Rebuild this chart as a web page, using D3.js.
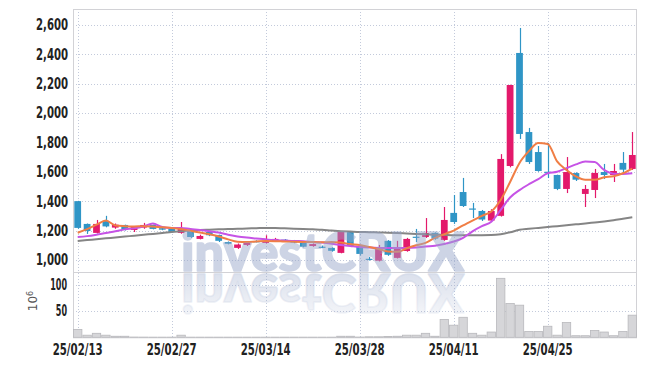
<!DOCTYPE html>
<html>
<head>
<meta charset="utf-8">
<script src="https://cdn.jsdelivr.net/npm/d3@7"></script>
<style>
  body { margin: 0; background: #fff; }
  svg { display: block; }
</style>
</head>
<body>
<svg id="chart"></svg>
<script>
// trading days (yy/mm/dd)
const dates = [
  "25/02/13","25/02/14","25/02/17","25/02/18","25/02/19","25/02/20","25/02/21","25/02/24","25/02/25","25/02/26",
  "25/02/27","25/02/28","25/03/04","25/03/05","25/03/06","25/03/07","25/03/10","25/03/11","25/03/12","25/03/13",
  "25/03/14","25/03/17","25/03/18","25/03/19","25/03/20","25/03/21","25/03/24","25/03/25","25/03/26","25/03/27",
  "25/03/28","25/03/31","25/04/01","25/04/02","25/04/03","25/04/04","25/04/07","25/04/08","25/04/09","25/04/10",
  "25/04/11","25/04/14","25/04/15","25/04/16","25/04/17","25/04/18","25/04/21","25/04/22","25/04/23","25/04/24",
  "25/04/25","25/04/28","25/04/29","25/04/30","25/05/02","25/05/07","25/05/08","25/05/09","25/05/12","25/05/13"
];
const open  = [1400,1245,1184,1265,1220,1238,1204,1220,1238,1216,1211,1184,1204,1143,1190,1170,1122,1082,1102,1128,
               1116,1129,1138,1132,1116,1095,1090,1082,1048,1190,1095,1008, 995,1130,1014,1061,1158,1156,1184,1136,
               1320,1462,1350,1333,1268,1300,1639,2408,1870,1734,1600,1578,1483,1591,1449,1476,1598,1578,1660,1619];
const close = [1218,1197,1245,1228,1240,1206,1224,1238,1211,1206,1190,1211,1156,1163,1168,1130,1110,1105,1122,1126,
               1130,1143,1134,1118,1090,1108,1087,1062,1190,1095,1041,1005,1082,1035,1075,1143,1154,1184,1145,1272,
               1258,1367,1345,1275,1333,1687,2190,1857,1666,1605,1596,1483,1598,1546,1483,1592,1578,1605,1614,1714];
const high  = [1402,1248,1272,1300,1248,1240,1230,1252,1240,1220,1214,1258,1206,1172,1195,1172,1126,1112,1128,1134,
               1168,1150,1142,1136,1118,1112,1098,1086,1196,1195,1100,1020,1102,1135,1130,1150,1211,1285,1188,1360,
               1442,1558,1388,1340,1345,1720,2192,2578,1898,1775,1796,1580,1700,1596,1510,1619,1653,1653,1734,1870];
const low   = [1212,1177,1180,1222,1212,1200,1190,1212,1208,1202,1186,1178,1150,1140,1162,1122,1106,1075,1095,1120,
               1112,1125,1128,1114,1086,1090,1080,1056,1045,1090,1030, 996, 990,1028,1010,1056,1122,1150,1138,1130,
               1245,1360,1285,1265,1262,1295,1630,1823,1653,1600,1557,1475,1455,1537,1360,1421,1551,1530,1598,1612];
// volume, millions of shares
const volume = [15,4,7.6,4,2,2,0.5,0.4,0.3,0.3,0.3,4,0.3,0.3,0.3,0.3,0.3,0.3,0.3,0.3,
                0.3,0.3,0.3,0.3,0.3,0.3,0.3,0.3,2,2,0.5,1,1,1.5,2,4,4,7.6,2,34,
                23,38,7.6,4,10,112,64,61,11,11,21,4,28,3,3,13,10,3,11,42];
// moving averages
const ma5  = [1185,1210,1240,1268,1235,1230,1228,1230,1228,1222,1218,1210,1198,1186,1175,1160,1140,1124,1122,1126,
              1129,1128,1125,1123,1122,1122,1120,1122,1118,1108,1102,1088,1075,1058,1055,1080,1100,1116,1150,1175,
              1200,1235,1268,1300,1330,1408,1530,1660,1740,1795,1789,1670,1612,1568,1545,1545,1562,1570,1590,1622];
const ma20 = [1156,1162,1172,1184,1195,1208,1215,1228,1248,1224,1218,1218,1210,1204,1195,1186,1172,1160,1152,1146,
              1140,1135,1132,1129,1128,1122,1118,1110,1102,1095,1088,1084,1082,1082,1082,1082,1085,1092,1096,1108,
              1125,1150,1195,1230,1260,1340,1425,1475,1515,1550,1590,1600,1625,1650,1670,1666,1612,1587,1585,1590];
const ma60 = [1129,1135,1141,1147,1153,1159,1165,1171,1177,1183,1190,1195,1200,1204,1206,1208,1210,1212,1214,1216,
              1218,1217,1215,1213,1211,1208,1205,1200,1196,1193,1190,1189,1187,1185,1183,1180,1177,1174,1172,1170,
              1168,1168,1168,1168,1169,1175,1188,1205,1212,1218,1224,1230,1236,1242,1248,1255,1262,1270,1280,1290];
const priceTicks = [1000,1200,1400,1600,1800,2000,2200,2400,2600];
const volTicks = [50,100];
const dateTicks = ["25/02/13","25/02/27","25/03/14","25/03/28","25/04/11","25/04/25"];

const W = 647, H = 366;
const m = { left: 73, right: 637, top: 9, split: 272, bottom: 337.3 };
const UP = "#e3196b", DOWN = "#2f95c6";
const labelFont = "'DejaVu Sans Condensed','Liberation Sans Narrow',sans-serif";

const svg = d3.select("#chart").attr("width", W).attr("height", H);

const x = d3.scaleBand().domain(dates).range([m.left, m.right]).paddingInner(0).paddingOuter(0);
const y = d3.scaleLinear().domain([918, 2707]).range([m.split, m.top]);
const yv = d3.scaleLinear().domain([0, 124]).range([m.bottom, m.split]);
const cx = d => x(d) + x.bandwidth() / 2;

// grid
const grid = svg.append("g")
  .attr("stroke", "#c3cadb")
  .attr("stroke-width", 1)
  .attr("stroke-dasharray", "1,2");
grid.selectAll("line.h").data(priceTicks).join("line")
  .attr("x1", m.left).attr("x2", m.right)
  .attr("y1", d => Math.round(y(d)) + 0.5).attr("y2", d => Math.round(y(d)) + 0.5);
grid.selectAll("line.v").data(volTicks).join("line")
  .attr("x1", m.left).attr("x2", m.right)
  .attr("y1", d => Math.round(yv(d)) + 0.5).attr("y2", d => Math.round(yv(d)) + 0.5);
grid.selectAll("line.d").data(dateTicks).join("line")
  .attr("x1", d => Math.round(cx(d)) + 0.5).attr("x2", d => Math.round(cx(d)) + 0.5)
  .attr("y1", m.top).attr("y2", m.bottom);

// frame
const frame = svg.append("g").attr("stroke", "#d2d2d6").attr("fill", "none");
frame.append("rect").attr("x", m.left + 0.5).attr("y", m.top + 0.5)
  .attr("width", m.right - m.left - 1).attr("height", m.bottom - m.top);
frame.append("line").attr("x1", m.left).attr("x2", m.right)
  .attr("y1", m.split + 0.5).attr("y2", m.split + 0.5);

// volume bars
svg.append("g").selectAll("rect").data(dates).join("rect")
  .attr("x", d => x(d) + 0.5)
  .attr("width", x.bandwidth() - 1)
  .attr("y", (d, i) => yv(volume[i]))
  .attr("height", (d, i) => m.bottom - yv(volume[i]))
  .attr("fill", "#d6d6d9")
  .attr("stroke", "#b8b8bc")
  .attr("stroke-width", 0.8);

// candles
const cw = x.bandwidth() * 0.72;
const candles = svg.append("g").selectAll("g").data(dates).join("g")
  .attr("fill", (d, i) => close[i] >= open[i] ? UP : DOWN)
  .attr("stroke", (d, i) => close[i] >= open[i] ? UP : DOWN);
candles.append("line")
  .attr("x1", d => Math.round(cx(d)) + 0.5).attr("x2", d => Math.round(cx(d)) + 0.5)
  .attr("y1", (d, i) => y(high[i])).attr("y2", (d, i) => y(low[i]))
  .attr("stroke-width", 1.2);
candles.append("rect")
  .attr("x", d => cx(d) - cw / 2)
  .attr("width", cw)
  .attr("y", (d, i) => y(Math.max(open[i], close[i])))
  .attr("height", (d, i) => Math.max(1.2, Math.abs(y(open[i]) - y(close[i]))))
  .attr("stroke", "none");

// moving averages
const mas = [
  { values: ma60, color: "#858585" },
  { values: ma20, color: "#c653e6" },
  { values: ma5, color: "#f07e45" }
];
const line = d3.line().x(d => cx(d[0])).y(d => y(d[1])).curve(d3.curveMonotoneX);
mas.forEach(ma => {
  svg.append("path")
    .datum(dates.map((d, i) => [d, ma.values[i]]))
    .attr("d", line)
    .attr("fill", "none")
    .attr("stroke", ma.color)
    .attr("stroke-width", 2);
});

// watermark with reflection
const defs = svg.append("defs");
const grad = defs.append("linearGradient").attr("id", "fade")
  .attr("x1", 0).attr("y1", 0).attr("x2", 0).attr("y2", 1);
grad.append("stop").attr("offset", "0%").attr("stop-color", "#97a6c9").attr("stop-opacity", 0.1);
grad.append("stop").attr("offset", "100%").attr("stop-color", "#97a6c9").attr("stop-opacity", 1);
const wmStyle = sel => sel
  .attr("x", 181).attr("y", 271)
  .attr("textLength", 283).attr("lengthAdjust", "spacingAndGlyphs")
  .style("font-family", "Lato, 'Open Sans', sans-serif")
  .style("font-weight", 900).style("font-size", "53px")
  .attr("stroke-width", 1.6).attr("stroke-linejoin", "round")
  .text("investCRUX");
svg.append("g").attr("opacity", 0.48).attr("pointer-events", "none")
  .append("text").call(wmStyle)
  .attr("fill", "#97a6c9").attr("stroke", "#97a6c9");
svg.append("g").attr("opacity", 0.4).attr("pointer-events", "none")
  .append("text").call(wmStyle)
  .attr("transform", "translate(0,545) scale(1,-1)")
  .attr("fill", "url(#fade)").attr("stroke", "url(#fade)");

// axis labels
const lab = svg.append("g")
  .style("font-family", labelFont).style("font-weight", 700)
  .style("font-size", "15px").attr("fill", "#222");
lab.selectAll("text.p").data(priceTicks).join("text")
  .attr("x", 36).attr("y", d => y(d)).attr("dy", "0.36em")
  .attr("textLength", 32).attr("lengthAdjust", "spacingAndGlyphs")
  .text(d3.format(","));
lab.selectAll("text.v").data(volTicks).join("text")
  .attr("x", d => 67 - String(d).length * 5.6).attr("y", d => yv(d)).attr("dy", "0.36em")
  .attr("textLength", d => String(d).length * 5.6).attr("lengthAdjust", "spacingAndGlyphs")
  .text(d => d);
lab.selectAll("text.d").data(dateTicks).join("text")
  .attr("x", d => cx(d) - 25).attr("y", 355)
  .attr("textLength", 50).attr("lengthAdjust", "spacingAndGlyphs")
  .text(d => d);

const unit = svg.append("text")
  .attr("transform", "translate(37,301) rotate(-90)")
  .attr("text-anchor", "middle")
  .style("font-family", "'DejaVu Sans', sans-serif").style("font-size", "12px")
  .attr("fill", "#555");
unit.append("tspan").text("10");
unit.append("tspan").attr("dy", "-0.5em").style("font-size", "8px").text("6");
</script>
</body>
</html>
